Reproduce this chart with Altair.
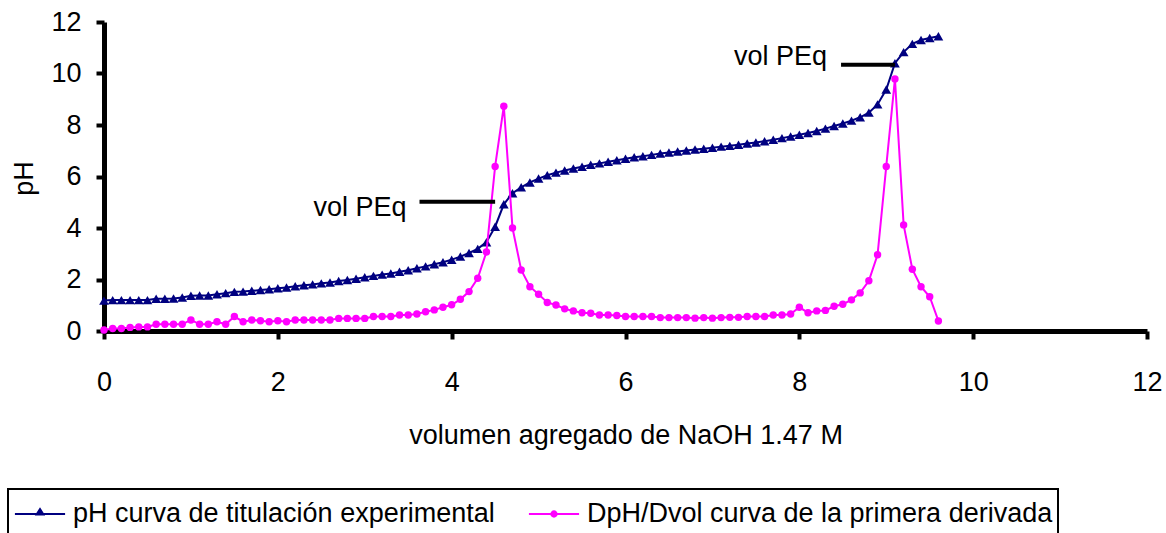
import altair as alt
import pandas as pd

NAVY = "#000080"
MAGENTA = "#FF00FF"
FONT = "Liberation Sans"

# Volumen de NaOH agregado (mL)
volumen = [
    0.0, 0.1, 0.2, 0.3, 0.4, 0.5, 0.6, 0.7, 0.8, 0.9,
    1.0, 1.1, 1.2, 1.3, 1.4, 1.5, 1.6, 1.7, 1.8, 1.9,
    2.0, 2.1, 2.2, 2.3, 2.4, 2.5, 2.6, 2.7, 2.8, 2.9,
    3.0, 3.1, 3.2, 3.3, 3.4, 3.5, 3.6, 3.7, 3.8, 3.9,
    4.0, 4.1, 4.2, 4.3, 4.4, 4.5, 4.6, 4.7, 4.8, 4.9,
    5.0, 5.1, 5.2, 5.3, 5.4, 5.5, 5.6, 5.7, 5.8, 5.9,
    6.0, 6.1, 6.2, 6.3, 6.4, 6.5, 6.6, 6.7, 6.8, 6.9,
    7.0, 7.1, 7.2, 7.3, 7.4, 7.5, 7.6, 7.7, 7.8, 7.9,
    8.0, 8.1, 8.2, 8.3, 8.4, 8.5, 8.6, 8.7, 8.8, 8.9,
    9.0, 9.1, 9.2, 9.3, 9.4, 9.5, 9.6,
]

# pH medido
ph = [
    1.18, 1.20, 1.20, 1.20, 1.20, 1.20, 1.25, 1.25, 1.26, 1.30,
    1.37, 1.38, 1.38, 1.43, 1.47, 1.52, 1.53, 1.56, 1.59, 1.62,
    1.66, 1.69, 1.74, 1.78, 1.81, 1.85, 1.88, 1.94, 1.98, 2.03,
    2.09, 2.14, 2.19, 2.23, 2.30, 2.36, 2.44, 2.51, 2.59, 2.67,
    2.77, 2.89, 3.03, 3.19, 3.45, 4.05, 4.92, 5.35, 5.58, 5.77,
    5.92, 6.05, 6.15, 6.23, 6.31, 6.38, 6.46, 6.51, 6.57, 6.63,
    6.69, 6.75, 6.79, 6.84, 6.89, 6.93, 6.97, 7.01, 7.05, 7.08,
    7.12, 7.16, 7.19, 7.23, 7.28, 7.32, 7.37, 7.43, 7.49, 7.55,
    7.62, 7.69, 7.77, 7.86, 7.96, 8.06, 8.17, 8.30, 8.48, 8.80,
    9.38, 10.40, 10.83, 11.15, 11.30, 11.38, 11.45,
]

# Primera derivada DpH/Dvol
dph_dvol = [
    0.04, 0.10, 0.10, 0.14, 0.16, 0.16, 0.26, 0.26, 0.26, 0.26,
    0.43, 0.26, 0.26, 0.36, 0.26, 0.56, 0.36, 0.43, 0.40, 0.36,
    0.40, 0.36, 0.43, 0.43, 0.43, 0.43, 0.43, 0.49, 0.49, 0.49,
    0.49, 0.56, 0.56, 0.56, 0.62, 0.62, 0.66, 0.75, 0.82, 0.92,
    1.02, 1.23, 1.53, 2.05, 3.07, 6.39, 8.73, 4.00, 2.37, 1.72,
    1.43, 1.11, 1.01, 0.86, 0.78, 0.71, 0.69, 0.62, 0.62, 0.60,
    0.56, 0.56, 0.56, 0.56, 0.52, 0.52, 0.52, 0.52, 0.50, 0.52,
    0.50, 0.52, 0.53, 0.53, 0.56, 0.56, 0.56, 0.62, 0.62, 0.66,
    0.92, 0.71, 0.78, 0.80, 0.96, 1.04, 1.21, 1.48, 1.95, 2.96,
    6.39, 9.79, 4.12, 2.40, 1.72, 1.33, 0.39,
]

serie_ph = "pH curva de titulación experimental"
serie_der = "DpH/Dvol curva de la primera derivada"

x_ticks = [0, 2, 4, 6, 8, 10, 12]
y_ticks = [0, 2, 4, 6, 8, 10, 12]

# Marcas de los puntos de equivalencia
peq_label = ["vol PEq", "vol PEq"]
peq_text_x = [3.48, 8.32]
peq_text_y = [4.47, 10.33]
peq_line_x1 = [3.63, 8.48]
peq_line_x2 = [4.50, 9.10]
peq_line_y = [5.02, 10.34]

W, H = 1043, 309

largo = pd.DataFrame({
    "vol": volumen + volumen,
    "valor": ph + dph_dvol,
    "serie": [serie_ph] * len(volumen) + [serie_der] * len(volumen),
})
anot_texto = pd.DataFrame({"x": peq_text_x, "y": peq_text_y, "t": peq_label})
anot_linea = pd.DataFrame({"x1": peq_line_x1, "x2": peq_line_x2, "y": peq_line_y})

X_TITLE = "volumen agregado de NaOH 1.47 M"
Y_TITLE = "pH"


def eje_x(field):
    return alt.X(
        f"{field}:Q",
        scale=alt.Scale(domain=[0, 12], nice=False, zero=False),
        axis=alt.Axis(
            values=x_ticks, title=X_TITLE, labelPadding=51,
            labelBaseline="alphabetic", labelFlush=False,
            titleX=W / 2, titleY=112, titleBaseline="alphabetic",
        ),
    )


def eje_y(field):
    return alt.Y(
        f"{field}:Q",
        scale=alt.Scale(domain=[0, 12], nice=False, zero=False),
        axis=alt.Axis(
            values=y_ticks, title=Y_TITLE, labelPadding=15, labelFlush=False,
            titleX=-72, titleY=156, titleAngle=270, titleAlign="center",
            titleBaseline="alphabetic",
        ),
    )


# Símbolos de la leyenda: segmento de línea con el marcador de cada serie
sym_tri = "M-1.32,0H1.32M0,-0.26L0.18,0.03L-0.18,0.03Z"
sym_circ = "M-1.32,0H1.32M0.14,0A0.14,0.14,0,1,1,-0.14,0A0.14,0.14,0,1,1,0.14,0Z"

leyenda = alt.Legend(
    title=None, orient="none", legendX=-96, legendY=467,
    direction="horizontal", padding=5, strokeColor="black", clipHeight=40,
    symbolSize=1444, symbolStrokeWidth=2, symbolOffset=7, symbolOpacity=1,
    labelOffset=13, columnPadding=32, labelFont=FONT, labelFontSize=27,
    labelColor="black", labelLimit=1000,
)
dominio = [serie_ph, serie_der]

portador = alt.Chart(largo).mark_point(filled=True, opacity=0).encode(
    x=eje_x("vol"), y=eje_y("valor"),
    color=alt.Color("serie:N", scale=alt.Scale(domain=dominio, range=[NAVY, MAGENTA]), legend=leyenda),
    stroke=alt.Stroke("serie:N", scale=alt.Scale(domain=dominio, range=[NAVY, MAGENTA]), legend=leyenda),
    shape=alt.Shape("serie:N", scale=alt.Scale(domain=dominio, range=[sym_tri, sym_circ]), legend=leyenda),
)

base = alt.Chart(largo).encode(x=eje_x("vol"), y=eje_y("valor"))

linea_ph = base.transform_filter(alt.datum.serie == serie_ph).mark_line(color=NAVY, strokeWidth=2)
puntos_ph = base.transform_filter(alt.datum.serie == serie_ph).mark_point(
    shape="triangle-up", filled=True, size=95, color=NAVY, opacity=1
)
linea_der = base.transform_filter(alt.datum.serie == serie_der).mark_line(color=MAGENTA, strokeWidth=2)
puntos_der = base.transform_filter(alt.datum.serie == serie_der).mark_point(
    shape="circle", filled=True, size=55, color=MAGENTA, opacity=1
)

rayas = alt.Chart(anot_linea).mark_rule(color="black", strokeWidth=4).encode(
    x=eje_x("x1"), x2="x2:Q", y=eje_y("y")
)
textos = alt.Chart(anot_texto).mark_text(
    align="right", baseline="alphabetic", font=FONT, fontSize=27, color="black"
).encode(x=eje_x("x"), y=eje_y("y"), text="t:N")

chart = alt.layer(
    portador, linea_ph, puntos_ph, linea_der, puntos_der, rayas, textos
).properties(
    width=W, height=H,
    autosize=alt.AutoSizeParams(type="none"),
    padding={"left": 104, "top": 22, "right": 19, "bottom": 202},
    background="white",
).configure_view(
    strokeWidth=0
).configure_axis(
    domainColor="black", domainWidth=5, tickColor="black", tickWidth=4, tickSize=8,
    labelFont=FONT, labelFontSize=27, labelColor="black",
    titleFont=FONT, titleFontSize=27, titleFontWeight="normal", titleColor="black",
    grid=False,
).configure_legend(
    strokeWidth=2
)

chart.save("out.html", embed_options={"renderer": "svg", "actions": False})
